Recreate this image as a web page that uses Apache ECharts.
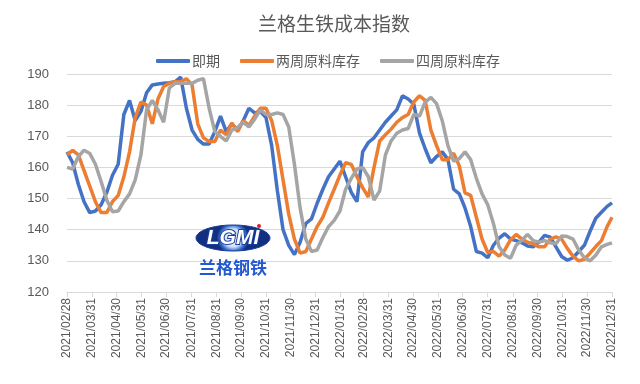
<!DOCTYPE html>
<html><head><meta charset="utf-8">
<script src="https://cdn.jsdelivr.net/npm/echarts@6/dist/echarts.min.js"></script>
<style>html,body{margin:0;padding:0;background:#fff}#c{width:640px;height:384px}</style>
</head><body><div id="c"></div>
<script>
const dates = ['2021-02-28','2021-03-07','2021-03-14','2021-03-21','2021-03-28','2021-04-04','2021-04-11','2021-04-18','2021-04-25','2021-05-02','2021-05-09','2021-05-16','2021-05-23','2021-05-30','2021-06-06','2021-06-13','2021-06-20','2021-06-27','2021-07-04','2021-07-11','2021-07-18','2021-07-25','2021-08-01','2021-08-08','2021-08-15','2021-08-22','2021-08-29','2021-09-05','2021-09-12','2021-09-19','2021-09-26','2021-10-03','2021-10-10','2021-10-17','2021-10-24','2021-10-31','2021-11-07','2021-11-14','2021-11-21','2021-11-28','2021-12-05','2021-12-12','2021-12-19','2021-12-26',
'2022-01-02','2022-01-09','2022-01-16','2022-01-23','2022-01-30','2022-02-06','2022-02-13','2022-02-20','2022-02-27','2022-03-06','2022-03-13','2022-03-20','2022-03-27','2022-04-03','2022-04-10','2022-04-17','2022-04-24','2022-05-01','2022-05-08','2022-05-15','2022-05-22','2022-05-29','2022-06-05','2022-06-12','2022-06-19','2022-06-26','2022-07-03','2022-07-10','2022-07-17','2022-07-24','2022-07-31','2022-08-07','2022-08-14','2022-08-21','2022-08-28','2022-09-04','2022-09-11','2022-09-18','2022-09-25','2022-10-02','2022-10-09','2022-10-16','2022-10-23','2022-10-30','2022-11-06','2022-11-13','2022-11-20','2022-11-27','2022-12-04','2022-12-11','2022-12-18','2022-12-25','2022-12-31'];

const spot = [165,161.5,154.5,149,145.5,146,148,152,157.5,161,
177,181.5,175,178,184,186.5,186.8,187,187.2,187.5,
189,179,172,169,167.5,167.5,171.5,176.5,171.5,174,
172,175,179,177.5,178,176,167,152.5,140,135,
132,136,142,143.5,148.5,153,157,159.5,162,157,
152,149,165,168,169.5,172,174.5,176.5,178.5,183,
182,180.3,171,166,161.5,163.5,165,162.5,153,151.5,
147,141,133,132.5,131,135,137.3,138.7,137,136.5,
135.8,134.8,134.5,136,138.2,137.6,134.5,131.4,130.2,131,
133,135,139.5,143.7,145.6,147.5,148.6];

const stock2w = [164,165.5,164,159,154,149,145.5,145.5,149,151,
157,165,176,181,180,174,182,186,187,187.5,
187.5,188.5,186.5,174,169.5,168.3,168.3,172,170.5,174.3,
171.5,175,173.5,176.5,179,179,175,167,156,145,
137,132.5,133,137,141,144,148.6,153,157.5,161.5,
161,157,153.5,150.5,160,168.5,170.5,172.3,174.5,176,
177,181,183,181.5,172,167,162.5,162.5,164.6,160.5,
151.8,151,144,137,132.7,133,131.5,133.5,136.7,138.5,
137,136,135.5,134.5,134.5,137,137.7,137,134,131.5,
130,130.5,132.5,134.6,136.5,141,144];

const stock4w = [160,159.5,163.5,165.5,164.5,161,155.5,149.5,145.8,146,
149,151.5,156,164,178.5,181.5,178.5,174.5,185.5,187,
187,187,187,188,188.5,179,171.5,170,168.5,172,
172.8,174.5,173,175.5,178.5,177,177,177.5,177,173,
161,147,137,133,133.5,137.5,141,143,146,153,
156.5,159.5,160,157,149.5,152.5,164,168.5,171,172,
172.5,177,176.5,181,182.5,180.5,175,167,162,162.8,
165,162.5,156.5,151.5,148,142,134.5,131.9,130.8,135,
136.6,138.5,136.5,136,136.5,135.8,135.5,138,137.8,137,
133.5,131,130,131.8,134.5,135.3,135.8];

const tickLabels = ['2021/02/28','2021/03/31','2021/04/30','2021/05/31','2021/06/30','2021/07/31','2021/08/31','2021/09/30','2021/10/31','2021/11/30','2021/12/31','2022/01/31','2022/02/28','2022/03/31','2022/04/30','2022/05/31','2022/06/30','2022/07/31','2022/08/31','2022/09/30','2022/10/31','2022/11/30','2022/12/31'];

const seriesNames = ['即期','两周原料库存','四周原料库存'];
const colors = ['#4472C4','#ED7D31','#A5A5A5'];

function ts(s){const p=s.split(/[-\/]/).map(Number);return Date.UTC(p[0],p[1]-1,p[2]);}
const tickVals = tickLabels.map(ts);
const labelMap = {}; tickLabels.forEach(function(l){labelMap[ts(l)]=l;});
function pairs(vals){return vals.map(function(v,i){return [ts(dates[i]),v];});}

const chart = echarts.init(document.getElementById('c'),null,{renderer:'canvas'});
const option = {
  animation:false,
  backgroundColor:'#fff',
  title:{text:'兰格生铁成本指数',left:253,top:9,
    textStyle:{fontSize:19,fontWeight:'normal',color:'#595959',fontFamily:'Noto Sans CJK SC'}},
  legend:{top:49,left:151,icon:'roundRect',itemWidth:34,itemHeight:4,itemGap:20,
    textStyle:{fontSize:14,color:'#595959',fontFamily:'Noto Sans CJK SC',padding:[0,0,0,-3]},
    data:seriesNames},
  grid:{left:67,right:28,top:74,bottom:92},
  xAxis:{type:'value',min:ts('2021-02-28'),max:ts('2022-12-31'),
    axisLine:{show:true,lineStyle:{color:'#d9d9d9',width:1}},
    axisTick:{show:true,customValues:tickVals,length:5,lineStyle:{color:'#d9d9d9'}},
    axisLabel:{customValues:tickVals,rotate:90,fontSize:12,color:'#595959',margin:6,
      fontFamily:'Liberation Sans',formatter:function(v){return labelMap[v]||'';}},
    splitLine:{show:false}},
  yAxis:{type:'value',min:120,max:190,interval:10,
    axisLine:{show:false},axisTick:{show:false},
    axisLabel:{fontSize:13,color:'#595959',margin:18,fontFamily:'Liberation Sans'},
    splitLine:{lineStyle:{color:'#d9d9d9',width:1}}},
  graphic:[
    {type:'ellipse',shape:{cx:233,cy:238,rx:37,ry:13},z:1,
      style:{fill:new echarts.graphic.RadialGradient(0.5,0.5,0.6,[{offset:0,color:'#ffffff'},{offset:0.55,color:'#cfe2f7'},{offset:0.8,color:'#3a6fd0'},{offset:1,color:'#12307f'}]),stroke:'#1a3c9a',lineWidth:1}},
    {type:'text',x:233,y:238,z:2,style:{text:'LGMI',fill:'#ffffff',stroke:'#1b3fa0',lineWidth:2,font:'italic bold 21px Liberation Sans',align:'center',verticalAlign:'middle'}},
    {type:'circle',shape:{cx:259,cy:226,r:2},z:3,style:{fill:'#e02020'}},
    {type:'text',x:233,y:268,z:2,style:{text:'兰格钢铁',fill:'#2358d0',font:'bold 17px Noto Sans CJK SC',align:'center',verticalAlign:'middle'}}
  ],
  series:[
    {name:seriesNames[0],type:'line',data:pairs(spot),showSymbol:false,symbol:'none',lineStyle:{width:3.5,color:colors[0]},itemStyle:{color:colors[0]}},
    {name:seriesNames[1],type:'line',data:pairs(stock2w),showSymbol:false,symbol:'none',lineStyle:{width:3.5,color:colors[1]},itemStyle:{color:colors[1]}},
    {name:seriesNames[2],type:'line',data:pairs(stock4w),showSymbol:false,symbol:'none',lineStyle:{width:3.5,color:colors[2]},itemStyle:{color:colors[2]}}
  ]
};
chart.setOption(option);
</script></body></html>
